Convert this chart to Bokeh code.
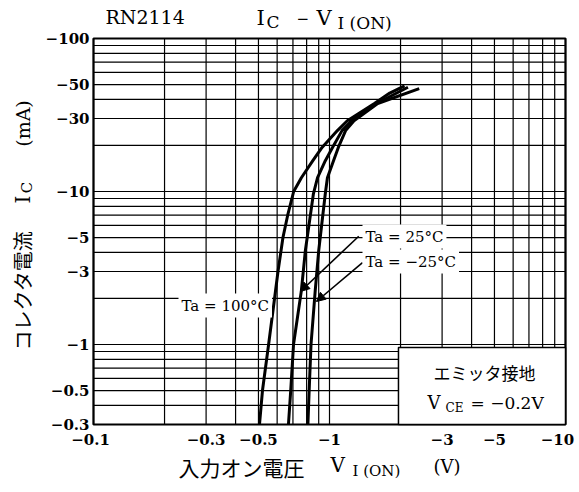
import math
from bokeh.plotting import figure
from bokeh.models import (Label, Arrow, NormalHead, BoxAnnotation, Range1d, ColumnDataSource)
from bokeh.core.properties import value
from bokeh.embed import file_html
from bokeh.resources import INLINE

# ---- data (magnitudes; all values are negative on the chart) ----
ic_100 = [0.3, 0.5, 1, 2, 3, 5, 7, 10, 12.3, 15.9, 19.4, 25, 29, 37.6, 44, 49]
v_100 = [0.505, 0.52, 0.552, 0.585, 0.605, 0.635, 0.665, 0.705, 0.76, 0.85, 0.93, 1.08, 1.19, 1.55, 1.8, 2.08]

ic_25 = [0.3, 0.5, 1, 2.25, 4.1, 9.7, 12.3, 15.9, 19.4, 25, 29, 37.6, 48]
v_25 = [0.67, 0.685, 0.704, 0.76, 0.79, 0.855, 0.89, 0.96, 1.03, 1.13, 1.24, 1.58, 2.15]

ic_m25 = [0.3, 0.5, 1, 2.25, 4.1, 9.7, 12.3, 15.9, 19.4, 25, 29, 37.6, 47]
v_m25 = [0.81, 0.82, 0.835, 0.87, 0.90, 0.96, 0.98, 1.04, 1.09, 1.17, 1.27, 1.6, 2.4]

x_ticks = [0.1, 0.3, 0.5, 1, 3, 5, 10]
x_tick_labels = ["−0.1", "−0.3", "−0.5", "−1", "−3", "−5", "−10"]
y_ticks = [0.3, 0.5, 1, 3, 5, 10, 30, 50, 100]
y_tick_labels = ["−0.3", "−0.5", "−1", "−3", "−5", "−10", "−30", "−50", "−100"]

x_grid = [0.1, 0.2, 0.3, 0.4, 0.5, 0.6, 0.7, 0.8, 0.9, 1, 2, 3, 4, 5, 6, 7, 8, 9, 10]
y_grid = [0.3, 0.4, 0.5, 0.6, 0.7, 0.8, 0.9, 1, 2, 3, 4, 5, 6, 7, 8, 9, 10,
          20, 30, 40, 50, 60, 70, 80, 90, 100]

X_LO, X_HI = 0.1, 10
Y_LO, Y_HI = 0.3, 100

# annotation anchors (data units)
arrow_25 = (1.33, 5.1, 0.753, 2.22)
arrow_m25 = (1.38, 3.43, 0.88, 1.91)
legend_box = (1.96, 10, 0.3, 0.956)

SERIF = "DejaVu Serif"
JP = "Noto Sans CJK JP"

# ---- layout: the frame is the whole canvas; the plotting area sits inside it ----
W, H = 579, 492
PL, PR, PT, PB = 93, 565, 38, 424   # plotting-area edges in canvas pixels

lx0, lx1 = math.log10(X_LO), math.log10(X_HI)
ly0, ly1 = math.log10(Y_LO), math.log10(Y_HI)
kx = (PR - PL) / (lx1 - lx0)
ky = (PB - PT) / (ly1 - ly0)
x_range = Range1d(10 ** (lx0 - PL / kx), 10 ** (lx1 + (W - PR) / kx))
y_range = Range1d(10 ** (ly0 - (H - PB) / ky), 10 ** (ly1 + PT / ky))

p = figure(x_axis_type="log", y_axis_type="log",
           x_range=x_range, y_range=y_range,
           width=W, height=H,
           min_border=0, min_border_left=0, min_border_right=0,
           min_border_top=0, min_border_bottom=0,
           output_backend="svg", toolbar_location=None,
           background_fill_color="white", border_fill_color="white")
p.xaxis.visible = False
p.yaxis.visible = False
p.xgrid.visible = False
p.ygrid.visible = False
p.outline_line_color = None

# grid
p.segment(x0=x_grid, x1=x_grid, y0=[Y_LO] * len(x_grid), y1=[Y_HI] * len(x_grid),
          line_color="black", line_width=1.2)
p.segment(x0=[X_LO] * len(y_grid), x1=[X_HI] * len(y_grid), y0=y_grid, y1=y_grid,
          line_color="black", line_width=1.2)

# frame
p.quad(left=[X_LO], right=[X_HI], bottom=[Y_LO], top=[Y_HI],
       fill_color=None, line_color="black", line_width=2.2)

# tick labels
x_shift = [-3 if t == X_LO else (-8 if t == X_HI else 0) for t in x_ticks]
xsrc = ColumnDataSource(dict(x=x_ticks, y=[Y_LO] * len(x_ticks), t=x_tick_labels, dx=x_shift))
p.text(x="x", y="y", text="t", x_offset="dx", source=xsrc,
       y_offset=15, text_align="center", text_baseline="middle",
       text_font=value(SERIF), text_font_style="bold", text_font_size="15px",
       text_color="black")
p.text(x=[X_LO] * len(y_ticks), y=y_ticks, text=y_tick_labels,
       x_offset=-4, text_align="right", text_baseline="middle",
       text_font=value(SERIF), text_font_style="bold", text_font_size="15px",
       text_color="black")

# curves
for v, ic in ((v_100, ic_100), (v_25, ic_25), (v_m25, ic_m25)):
    p.line(v, ic, line_color="black", line_width=3, line_join="round")

# condition box
p.add_layout(BoxAnnotation(left=legend_box[0], right=legend_box[1],
                           bottom=legend_box[2], top=legend_box[3],
                           fill_color="white", fill_alpha=1.0,
                           line_color="black", line_width=1.5, line_alpha=1.0))


def lab(x, y, text, size, font=SERIF, align="left", angle=0.0, bg=None, style="normal"):
    kw = {}
    if bg is not None:
        kw = dict(background_fill_color=bg, background_fill_alpha=1.0, padding=3)
    p.add_layout(Label(x=x, y=H - y, x_units="screen", y_units="screen",
                       text=text, text_font=font, text_font_size=f"{size}px",
                       text_font_style=style, text_align=align, text_baseline="middle",
                       angle=angle, text_color="black", **kw))


# arrows
for (xs, ys, xe, ye) in (arrow_25, arrow_m25):
    p.add_layout(Arrow(x_start=xs, y_start=ys, x_end=xe, y_end=ye,
                       line_color="black", line_width=1.6,
                       end=NormalHead(size=9, fill_color="black", line_color="black")))

# in-plot annotations
lab(362, 236, "Ta = 25°C", 15, bg="white")
lab(362, 261, "Ta = −25°C", 15, bg="white")
lab(178, 305, "Ta = 100°C", 15, bg="white")

# box text
lab(484, 372, "エミッタ接地", 17, font=JP, align="center")
lab(427, 402, "V", 18)
lab(445, 407, "CE", 12)
lab(470, 402, "= −0.2V", 17)

# title
lab(105, 16, "RN2114", 19)
lab(256, 17, "I", 21)
lab(266, 21, "C", 17)
lab(296, 18, "−", 15)
lab(316, 17, "V", 21)
lab(337, 22, "I (ON)", 17)

# x axis label
lab(178, 466, "入力オン電圧", 21, font=JP)
lab(330, 464, "V", 20)
lab(352, 470, "I (ON)", 15)
lab(433, 466, "(V)", 18)

# y axis label (rotated)
ROT = math.pi / 2
lab(22, 290, "コレクタ電流", 20, font=JP, align="center", angle=ROT)
lab(22, 199, "I", 20, align="center", angle=ROT)
lab(26, 187, "C", 15, align="center", angle=ROT)
lab(22, 123, "(mA)", 19, align="center", angle=ROT)

open("out.html", "w").write(file_html(p, INLINE))
